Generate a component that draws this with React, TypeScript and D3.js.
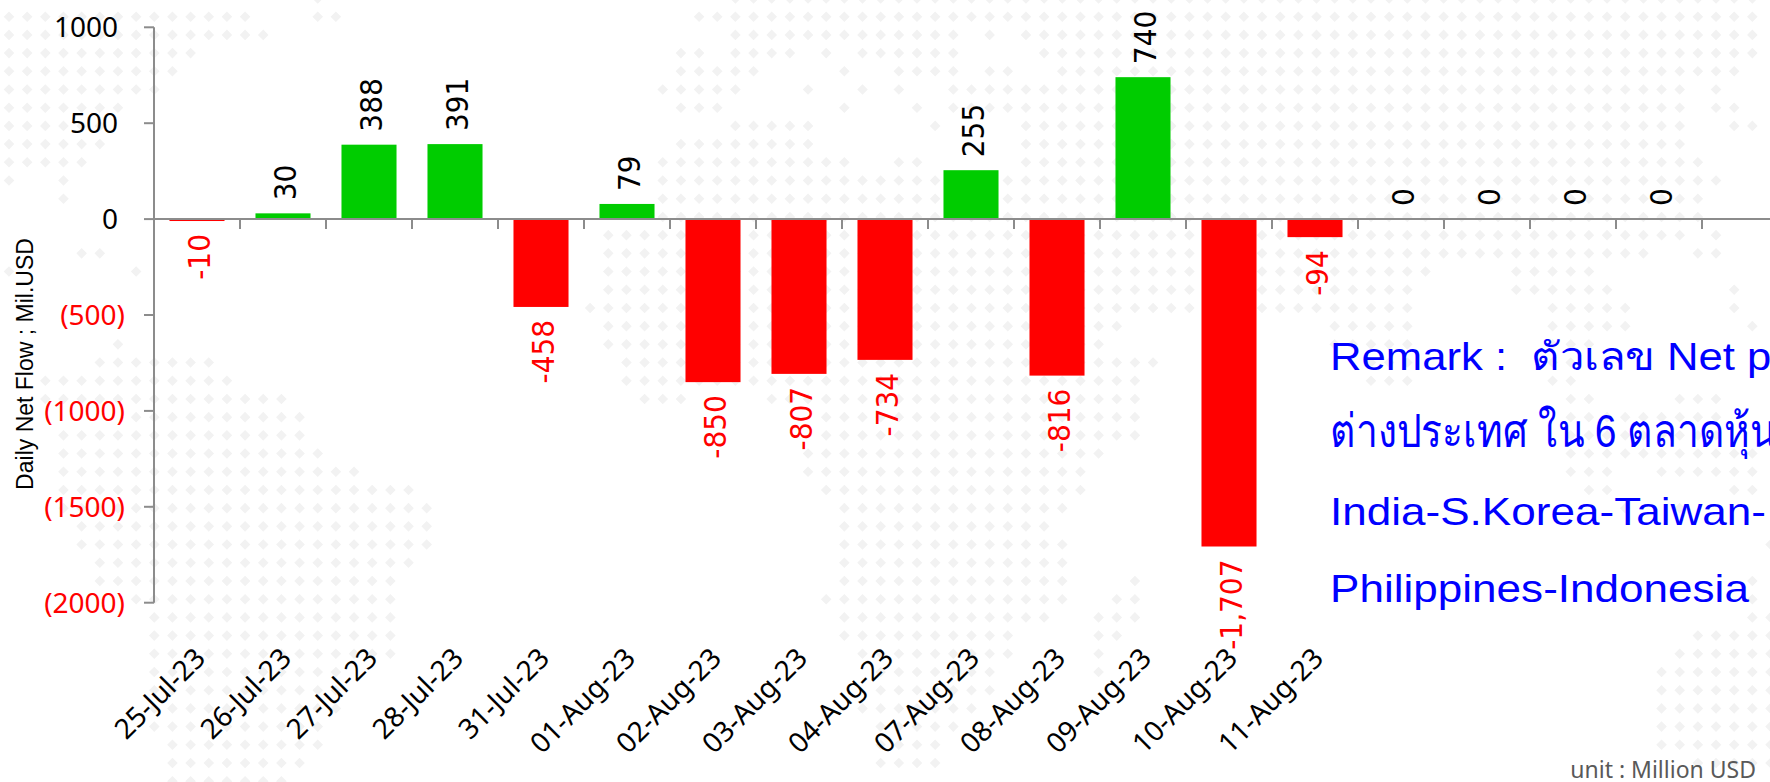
import React from 'react'
import * as d3 from 'd3'

const dates = ['25-Jul-23', '26-Jul-23', '27-Jul-23', '28-Jul-23', '31-Jul-23', '01-Aug-23', '02-Aug-23', '03-Aug-23', '04-Aug-23', '07-Aug-23', '08-Aug-23', '09-Aug-23', '10-Aug-23', '11-Aug-23', '', '', '', '']
const netFlow = [-10, 30, 388, 391, -458, 79, -850, -807, -734, 255, -816, 740, -1707, -94, 0, 0, 0, 0]
const yTicks = [1000, 500, 0, -500, -1000, -1500, -2000]
const remarkLines = ['Remark :  ตัวเลข Net po', 'ต่างประเทศ ใน 6 ตลาดหุ้น', 'India-S.Korea-Taiwan-', 'Philippines-Indonesia']
const remarkStretchX = [1.12, 1, 1.13, 1.13]
const remarkStretchY = [1, 1.18, 1, 1]

// background dot map: column runs per grid row
const mapRows: number[][][] = [
  [[17, 17], [40, 96]],
  [[0, 13], [17, 18], [38, 96]],
  [[0, 14], [40, 52], [54, 54], [56, 96]],
  [[0, 10], [37, 38], [40, 43], [45, 45], [47, 52], [57, 96]],
  [[0, 9], [37, 41], [46, 46], [49, 52], [54, 55], [58, 95]],
  [[0, 8], [36, 40], [44, 44], [47, 47], [49, 49], [52, 92], [94, 94]],
  [[0, 6], [37, 39], [46, 46], [50, 50], [52, 92], [94, 95]],
  [[0, 5], [40, 44], [51, 51], [56, 92], [95, 96]],
  [[0, 5], [37, 44], [56, 92]],
  [[0, 4], [36, 46], [49, 50], [56, 93]],
  [[0, 0], [3, 3], [36, 94]],
  [[3, 3], [36, 93]],
  [[36, 93]],
  [[33, 92], [94, 94]],
  [[4, 5], [33, 90], [93, 94]],
  [[0, 0], [7, 7], [33, 78], [83, 87]],
  [[33, 77], [83, 88], [95, 95]],
  [[32, 77], [85, 89], [95, 95]],
  [[33, 61], [73, 77], [85, 89], [96, 96]],
  [[6, 6], [33, 60], [73, 77], [85, 87]],
  [[5, 11], [34, 63], [75, 77], [85, 86]],
  [[2, 12], [34, 62], [75, 77], [85, 86]],
  [[2, 15], [35, 37], [42, 62], [86, 87], [92, 94]],
  [[7, 16], [45, 62], [86, 94]],
  [[3, 16], [45, 62], [86, 94]],
  [[3, 17], [44, 60], [86, 96]],
  [[3, 19], [44, 59], [86, 88], [91, 96]],
  [[3, 22], [45, 59], [87, 88], [95, 96]],
  [[3, 23], [46, 58], [89, 89], [92, 92]],
  [[4, 23], [46, 57]],
  [[4, 23], [46, 58], [97, 97]],
  [[5, 22], [46, 58]],
  [[5, 21], [46, 58], [62, 62], [96, 96]],
  [[7, 21], [45, 58], [61, 62], [96, 96]],
  [[8, 21], [46, 57], [60, 62], [96, 97]],
  [[8, 21], [46, 55], [60, 61], [93, 97]],
  [[8, 21], [47, 55], [60, 60], [92, 97]],
  [[8, 18], [48, 54], [60, 60], [91, 97]],
  [[8, 18], [48, 54], [91, 97]],
  [[8, 18], [47, 53], [91, 97]],
  [[8, 17], [48, 52], [91, 97]],
  [[9, 17], [48, 51], [91, 97]],
  [[9, 16], [48, 51], [93, 97]],
  [[9, 15]],
]

const width = 1770
const height = 782
const axisX = 154
const axisColor = '#8c8c8c'
const numberFont = '"Noto Sans", sans-serif'

const xScale = d3.scaleBand<number>()
  .domain(d3.range(netFlow.length))
  .range([axisX, 1702])
  .paddingInner(0.36)
  .paddingOuter(0.18)

const yScale = d3.scaleLinear().domain([1000, -2000]).range([27.3, 602.7])

const colScale = d3.scaleLinear().domain([0, 97]).range([9, 1770.5])
const rowScale = d3.scaleLinear().domain([1, 42]).range([16.7, 763])

// plain hyphen for negatives, as in the original labels
const formatValue = (v: number) => d3.format(',')(v).replace('\u2212', '-')
const formatTick = (v: number) => (v < 0 ? `(${Math.abs(v)})` : `${v}`)

const diamond = (cx: number, cy: number, r: number) =>
  `M${cx - r},${cy}L${cx},${cy - r}L${cx + r},${cy}L${cx},${cy + r}Z`

const App = () => {
  const step = xScale.step()
  const zero = yScale(0)

  const dots = mapRows.flatMap((runs, row) =>
    runs.flatMap(([from, to]) =>
      d3.range(from, to + 1).map((col) => diamond(colScale(col), rowScale(row), 5.3))
    )
  )

  return (
    <svg width={width} height={height} style={{ position: 'absolute', left: 0, top: 0, display: 'block' }}>
      <rect width={width} height={height} fill='#ffffff' />
      <path d={dots.join('')} fill='#f2f2f2' />

      {/* y axis */}
      <line x1={axisX} x2={axisX} y1={yScale(1000)} y2={yScale(-2000)} stroke={axisColor} strokeWidth={2} />
      {yTicks.map((t) => (
        <g key={t}>
          <line x1={axisX - 10} x2={axisX} y1={yScale(t)} y2={yScale(t)} stroke={axisColor} strokeWidth={2} />
          <text
            x={t < 0 ? 125 : 118}
            y={yScale(t) + 10}
            textAnchor='end'
            fontFamily={numberFont}
            fontSize={28}
            fill={t < 0 ? '#ff0000' : '#000000'}
          >
            {formatTick(t)}
          </text>
        </g>
      ))}
      <text
        transform={`translate(33,364) rotate(-90)`}
        textAnchor='middle'
        fontFamily='"Liberation Sans", sans-serif'
        fontSize={23}
        fill='#000000'
      >
        Daily Net Flow ; Mil.USD
      </text>

      {/* bars */}
      {netFlow.map((v, i) => (
        <rect
          key={i}
          x={xScale(i)}
          y={Math.min(yScale(v), zero)}
          width={xScale.bandwidth()}
          height={Math.abs(yScale(v) - zero)}
          fill={v < 0 ? '#ff0000' : '#00cc00'}
        />
      ))}

      {/* x axis */}
      <line x1={axisX} x2={width} y1={zero} y2={zero} stroke={axisColor} strokeWidth={2} />
      {d3.range(netFlow.length + 1).map((i) => (
        <line
          key={i}
          x1={axisX + i * step}
          x2={axisX + i * step}
          y1={zero}
          y2={zero + 10}
          stroke={axisColor}
          strokeWidth={2}
        />
      ))}

      {/* date labels */}
      {dates.map((d, i) =>
        d ? (
          <text
            key={d}
            transform={`translate(${xScale(i)! + xScale.bandwidth() / 2 + 10},660) rotate(-45)`}
            textAnchor='end'
            fontFamily={numberFont}
            fontSize={28}
            fill='#000000'
          >
            {d}
          </text>
        ) : null
      )}

      {/* value labels */}
      {netFlow.map((v, i) => {
        const cx = xScale(i)! + xScale.bandwidth() / 2
        return (
          <text
            key={i}
            transform={`translate(${cx + 12.5},${v < 0 ? yScale(v) + 13 : yScale(v) - 13}) scale(1.1,1) rotate(-90)`}
            textAnchor={v < 0 ? 'end' : 'start'}
            fontFamily='"DejaVu Sans", sans-serif'
            fontSize={28}
            fill={v < 0 ? '#ff0000' : '#000000'}
          >
            {formatValue(v)}
          </text>
        )
      })}

      {/* remark */}
      {remarkLines.map((line, i) => (
        <text
          key={i}
          transform={`translate(1330,${370 + i * 77.4}) scale(${remarkStretchX[i]},${remarkStretchY[i]})`}
          fontFamily='"Liberation Sans", "Noto Sans", sans-serif'
          fontSize={39}
          fill='#0000ff'
          style={{ whiteSpace: 'pre' }}
        >
          {line}
        </text>
      ))}

      <text x={1756} y={778} textAnchor='end' fontFamily={numberFont} fontSize={23} fill='#595959'>
        unit : Million USD
      </text>
    </svg>
  )
}

export default App
